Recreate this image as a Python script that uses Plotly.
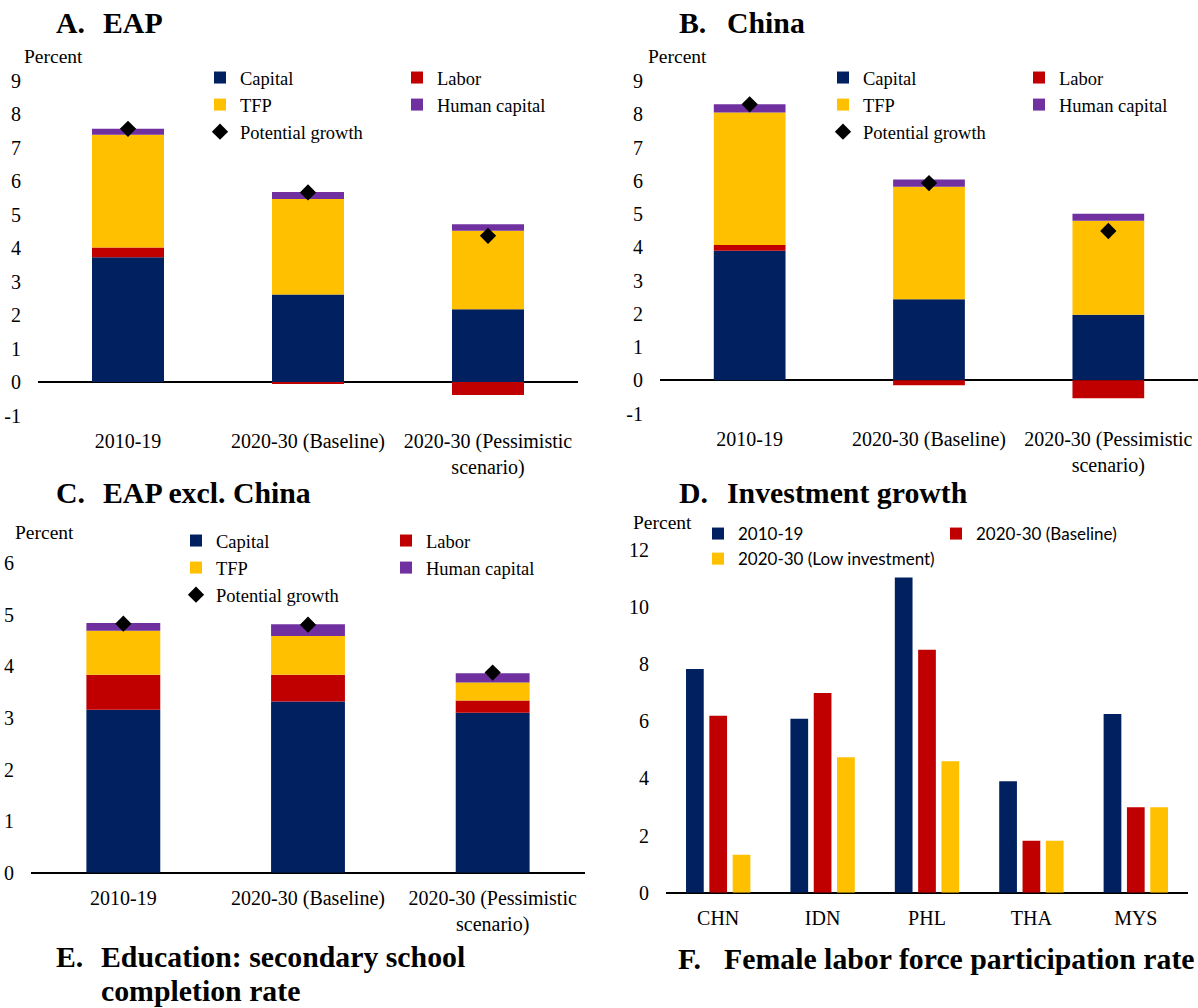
import plotly.graph_objects as go

W, H = 1198, 1008

# ---- data -------------------------------------------------------------
periods = ["2010-19", "2020-30 (Baseline)", "2020-30 (Pessimistic<br>scenario)"]

eap_capital = [3.73, 2.62, 2.18]
eap_labor = [0.29, -0.03, -0.39]
eap_tfp = [3.37, 2.85, 2.34]
eap_human = [0.18, 0.21, 0.20]
eap_potential = [7.57, 5.67, 4.37]

chn_capital = [3.90, 2.44, 1.97]
chn_labor = [0.17, -0.15, -0.54]
chn_tfp = [3.98, 3.38, 2.83]
chn_human = [0.25, 0.22, 0.21]
chn_potential = [8.30, 5.93, 4.49]

exc_capital = [3.16, 3.32, 3.10]
exc_labor = [0.68, 0.52, 0.24]
exc_tfp = [0.85, 0.75, 0.35]
exc_human = [0.15, 0.23, 0.18]
exc_potential = [4.83, 4.81, 3.88]

countries = ["CHN", "IDN", "PHL", "THA", "MYS"]
inv_2010_19 = [7.83, 6.09, 11.04, 3.90, 6.26]
inv_baseline = [6.20, 6.99, 8.51, 1.82, 2.99]
inv_low = [1.33, 4.74, 4.60, 1.82, 2.99]

growth_ticks = list(range(-1, 10))
excl_ticks = list(range(0, 7))
invest_ticks = list(range(0, 13, 2))

# ---- style ------------------------------------------------------------
NAVY, RED, GOLD, PURPLE = "#002060", "#C00000", "#FFC000", "#7030A0"
SERIF = "Liberation Serif, Times New Roman, serif"
SANS = "Lato, Open Sans, sans-serif"


def px_x(x):
    return x / W


def px_y(y):
    return 1 - y / H


fig = go.Figure()


def add_decomposition(xa, ya, capital, labor, tfp, human, potential, leg_a, leg_b):
    parts = [
        ("Capital", capital, NAVY, leg_a),
        ("Labor", labor, RED, leg_b),
        ("TFP", tfp, GOLD, leg_a),
        ("Human capital", human, PURPLE, leg_b),
    ]
    for name, vals, color, leg in parts:
        fig.add_trace(go.Bar(
            x=periods, y=vals, name=name, marker=dict(color=color, line=dict(width=0)),
            width=0.4, xaxis=xa, yaxis=ya, legend=leg,
        ))
    fig.add_trace(go.Scatter(
        x=periods, y=potential, name="Potential growth", mode="markers",
        marker=dict(symbol="diamond", size=12.5, color="black"),
        xaxis=xa, yaxis=ya, legend=leg_a,
    ))


add_decomposition("x", "y", eap_capital, eap_labor, eap_tfp, eap_human, eap_potential,
                  "legend", "legend2")
add_decomposition("x2", "y2", chn_capital, chn_labor, chn_tfp, chn_human, chn_potential,
                  "legend3", "legend4")
add_decomposition("x3", "y3", exc_capital, exc_labor, exc_tfp, exc_human, exc_potential,
                  "legend5", "legend6")

for name, vals, color, leg, grp in [
    ("2010-19", inv_2010_19, NAVY, "legend7", "a"),
    ("2020-30 (Baseline)", inv_baseline, RED, "legend8", "b"),
    ("2020-30 (Low investment)", inv_low, GOLD, "legend7", "c"),
]:
    fig.add_trace(go.Bar(
        x=countries, y=vals, name=name, marker=dict(color=color, line=dict(width=0)),
        offsetgroup=grp, xaxis="x4", yaxis="y4", legend=leg,
    ))

# ---- axes -------------------------------------------------------------
tick_font = dict(family=SERIF, size=20, color="black")


def xaxis(domain, anchor):
    return dict(domain=domain, anchor=anchor, type="category", showgrid=False,
                showline=False, zeroline=False, ticks="", tickfont=tick_font,
                ticklabelstandoff=11, fixedrange=True, automargin=False)


def yaxis(domain, anchor, ticks):
    return dict(domain=domain, anchor=anchor, range=[ticks[0], ticks[-1]],
                tickmode="array", tickvals=ticks, ticktext=[str(t) for t in ticks],
                showgrid=False, showline=False, zeroline=True, zerolinecolor="black",
                zerolinewidth=1.6, ticks="", tickfont=tick_font, ticklabelstandoff=16,
                fixedrange=True, automargin=False)


fig.update_layout(
    xaxis=xaxis([px_x(38), px_x(578)], "y"),
    yaxis=yaxis([px_y(415.5), px_y(81)], "x", growth_ticks),
    xaxis2=xaxis([px_x(660), 1.0], "y2"),
    yaxis2=yaxis([px_y(413.6), px_y(81)], "x2", growth_ticks),
    xaxis3=xaxis([px_x(31), px_x(585)], "y3"),
    yaxis3=yaxis([px_y(872.7), px_y(563.3)], "x3", excl_ticks),
    xaxis4=xaxis([px_x(666), px_x(1188)], "y4"),
    yaxis4=yaxis([px_y(892.7), px_y(550)], "x4", invest_ticks),
)

# ---- legends ------------------------------------------------------------


def legend(x_text, y_first, size=18.5, family=SERIF):
    return dict(x=px_x(x_text - 40), y=px_y(y_first - 20), xanchor="left", yanchor="top",
                orientation="v", traceorder="normal", bgcolor="rgba(0,0,0,0)",
                font=dict(family=family, size=size, color="black"),
                tracegroupgap=0, itemclick=False, itemdoubleclick=False)


fig.update_layout(
    legend=legend(240, 79),
    legend2=legend(437, 79),
    legend3=legend(863, 79),
    legend4=legend(1059, 79),
    legend5=legend(216, 542),
    legend6=legend(426, 542),
    legend7=legend(738, 536, 17, SANS),
    legend8=legend(976, 536, 17, SANS),
)

# ---- titles and unit labels ------------------------------------------------
annotations = []


def text(x, y, s, size=20, bold=False):
    annotations.append(dict(
        x=px_x(x), y=px_y(y), xref="paper", yref="paper", xanchor="left", yanchor="middle",
        text=f"<b>{s}</b>" if bold else s, showarrow=False,
        font=dict(family=SERIF, size=size, color="black"),
    ))


TS = 29.8
for letter, title, xl, xt, yc in [
    ("A.", "EAP", 54, 101, 22.5),
    ("B.", "China", 677, 725, 22.5),
    ("C.", "EAP excl. China", 54, 101, 492.5),
    ("D.", "Investment growth", 677, 725, 492.5),
    ("E.", "Education: secondary school", 54, 99, 956),
    ("F.", "Female labor force participation rate", 676, 722, 958),
]:
    text(xl, yc, letter, TS, True)
    text(xt, yc, title, TS, True)
text(99, 990, "completion rate", TS, True)

for x, y in [(24, 56), (648, 56), (15, 532), (633, 522)]:
    text(x - 2, y, "Percent", 19.5)

fig.update_layout(
    annotations=annotations,
    barmode="relative",
    bargap=0.33,
    bargroupgap=0.24,
    width=W, height=H,
    margin=dict(l=0, r=0, t=0, b=0, autoexpand=False),
    paper_bgcolor="white",
    plot_bgcolor="white",
    font=dict(family=SERIF, color="black"),
)

fig.write_html("out.html", config={"displayModeBar": False})
